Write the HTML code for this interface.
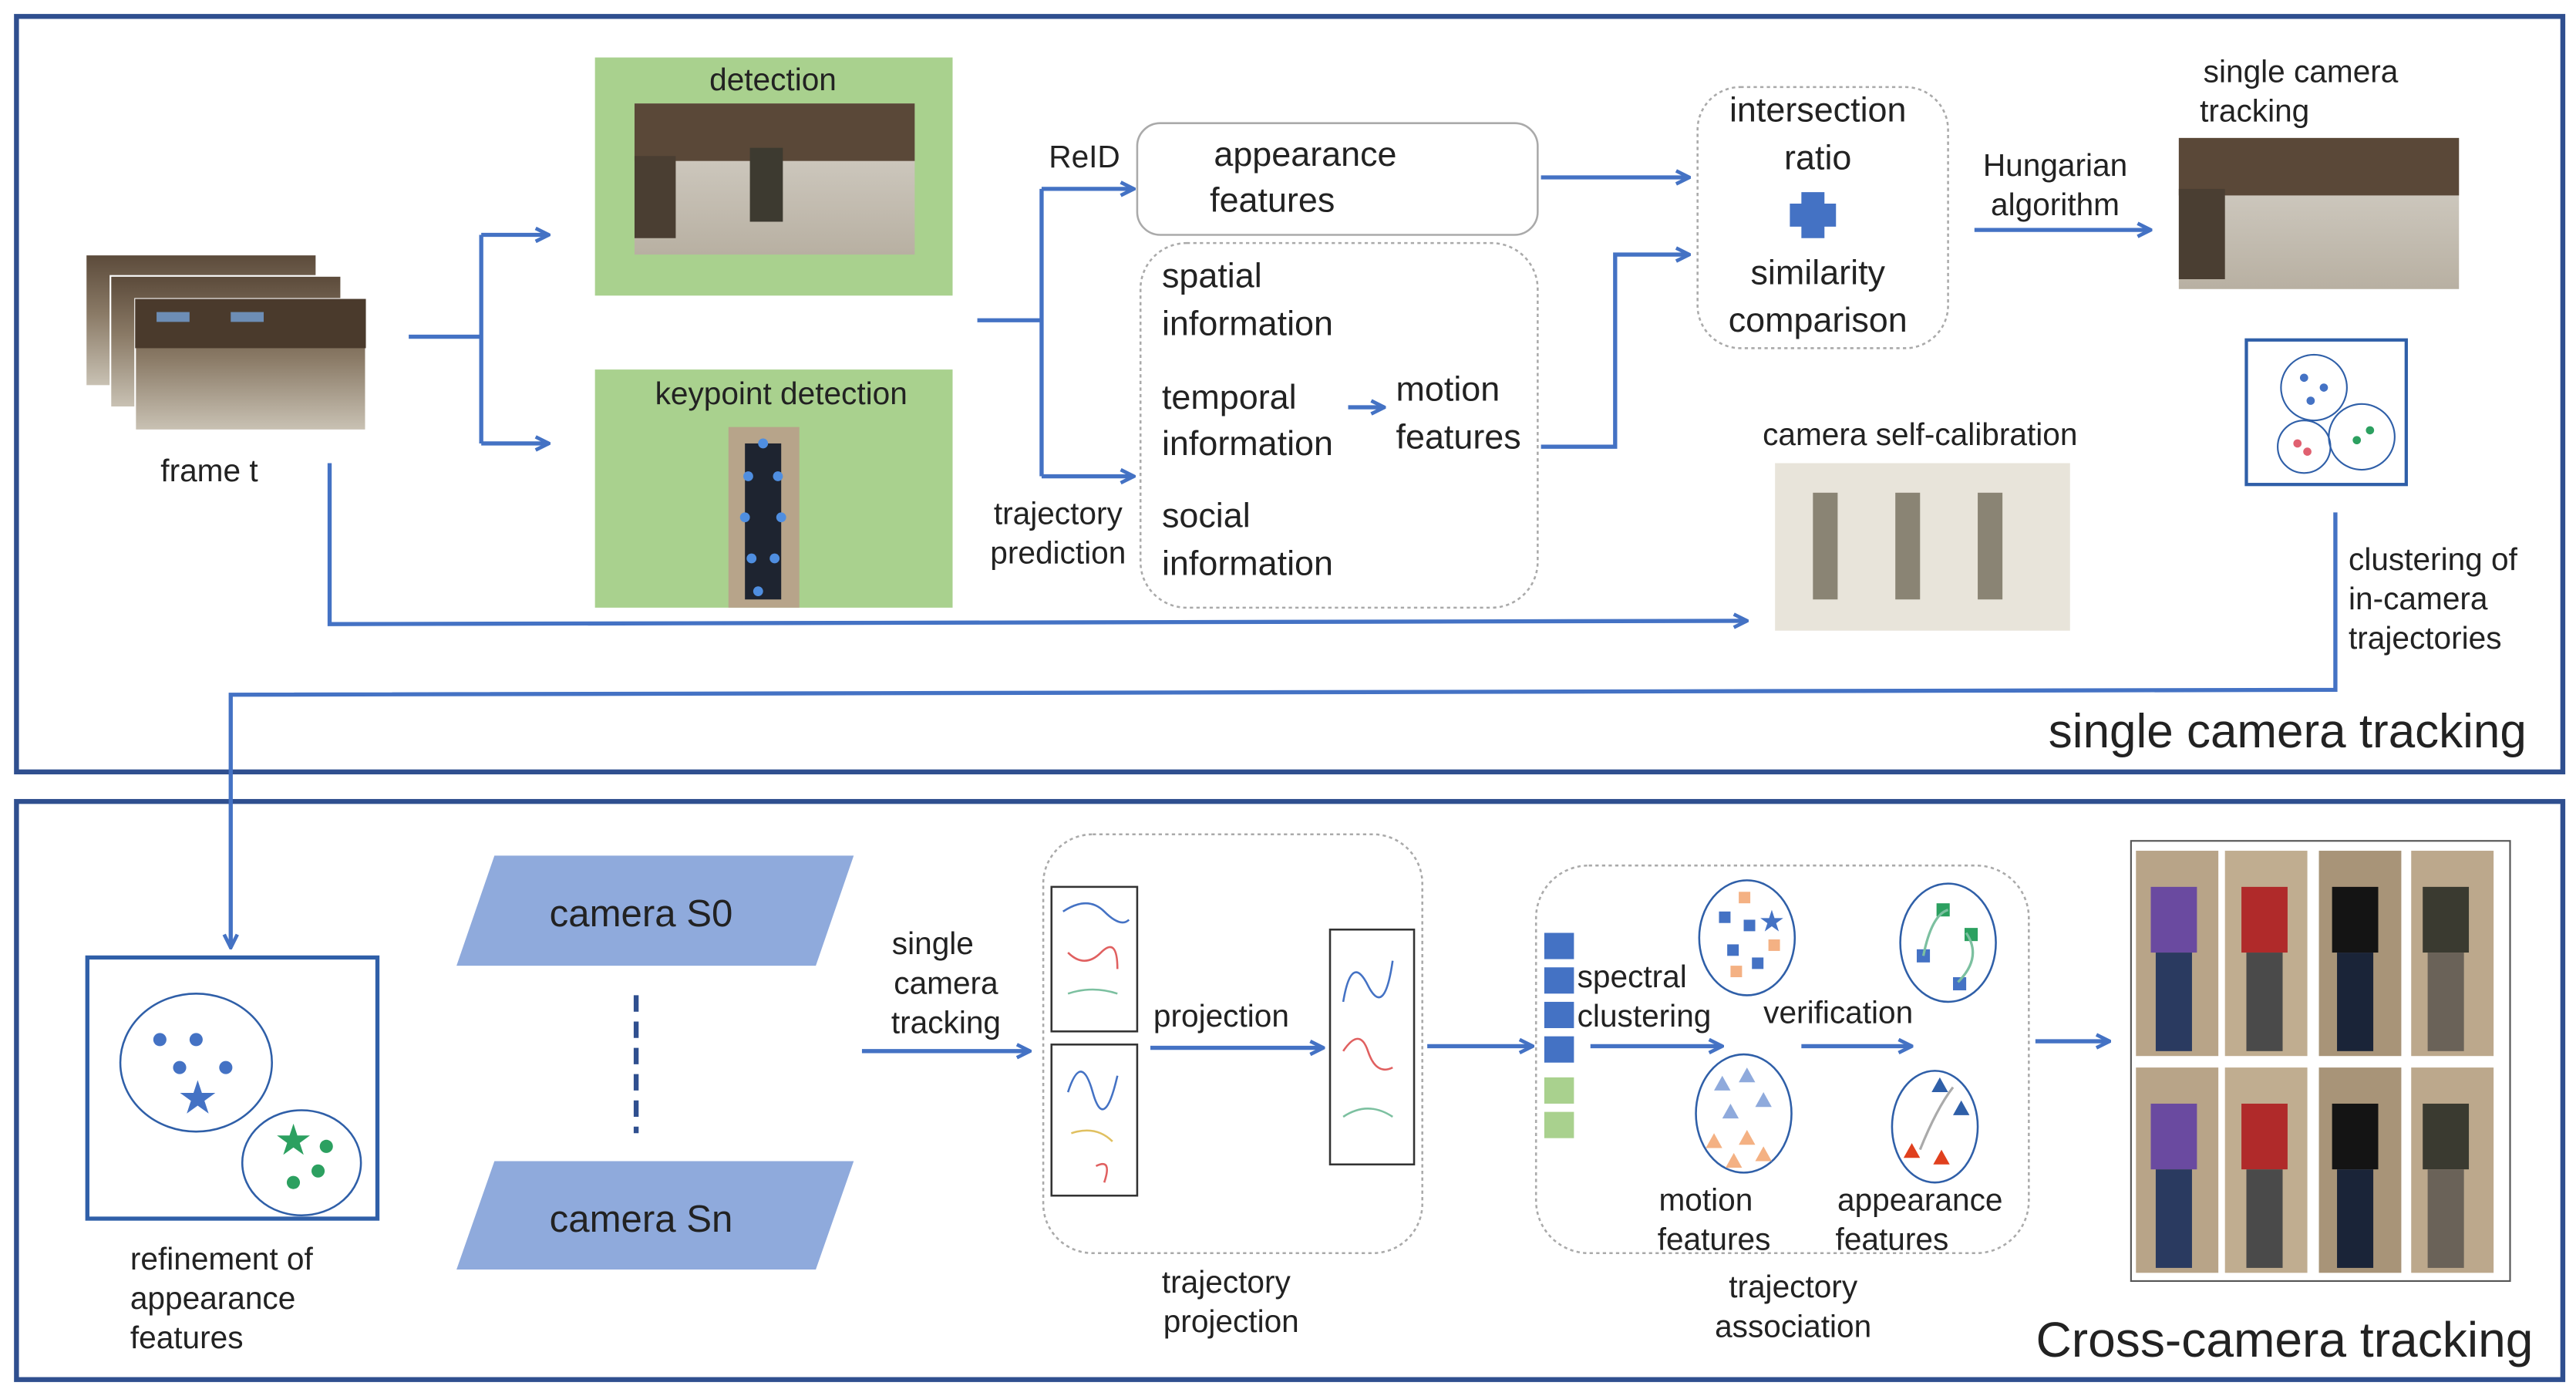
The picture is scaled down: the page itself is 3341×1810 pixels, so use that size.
<!DOCTYPE html>
<html><head><meta charset="utf-8"><style>
html,body{margin:0;padding:0;background:#fff;}
svg{display:block;}
text{font-family:"Liberation Sans",sans-serif;fill:#222;}
</style></head><body>
<svg width="3341" height="1810" viewBox="0 0 1563 850" preserveAspectRatio="none" xmlns="http://www.w3.org/2000/svg">
<defs>
<marker id="a" markerWidth="10" markerHeight="10" refX="9" refY="5" orient="auto" markerUnits="userSpaceOnUse"><path d="M1,1 L9,5 L1,9" fill="none" stroke="#4472c4" stroke-width="2.2"/></marker>
<linearGradient id="store" x1="0" y1="0" x2="0" y2="1"><stop offset="0" stop-color="#5b4a3a"/><stop offset="0.45" stop-color="#8a7a66"/><stop offset="1" stop-color="#c9c2b4"/></linearGradient>
<linearGradient id="floor" x1="0" y1="0" x2="0" y2="1"><stop offset="0" stop-color="#d8d4cc"/><stop offset="1" stop-color="#b8b0a2"/></linearGradient>
</defs>
<g fill="none" stroke="#2f4f8f" stroke-width="3">
<rect x="10" y="10" width="1545" height="460"/>
<rect x="10" y="488" width="1545" height="352"/>
</g>
<g>
<rect x="52" y="155" width="140" height="80" fill="url(#store)" stroke="#fff"/>
<rect x="67" y="168" width="140" height="80" fill="url(#store)" stroke="#fff"/>
<rect x="82" y="182" width="140" height="80" fill="url(#store)" stroke="#fff"/>
<rect x="82" y="182" width="140" height="30" fill="#4a3a2c"/>
<rect x="95" y="190" width="20" height="6" fill="#6d8db5"/><rect x="140" y="190" width="20" height="6" fill="#6d8db5"/>
</g>
<text x="127" y="293" font-size="19" text-anchor="middle">frame t</text>
<rect x="361" y="35" width="217" height="145" fill="#a9d18e"/>
<text x="469" y="55" font-size="19" text-anchor="middle">detection</text>
<rect x="385" y="63" width="170" height="92" fill="url(#floor)"/>
<rect x="385" y="63" width="170" height="35" fill="#5a4838"/>
<rect x="455" y="90" width="20" height="45" fill="#3d3a30"/>
<rect x="385" y="95" width="25" height="50" fill="#4a3e32"/>
<rect x="361" y="225" width="217" height="145" fill="#a9d18e"/>
<text x="474" y="246" font-size="19" text-anchor="middle">keypoint detection</text>
<rect x="442" y="260" width="43" height="110" fill="#b7a48a"/>
<rect x="452" y="270" width="22" height="95" fill="#1e2430"/>
<g fill="#4f8ee0"><circle cx="463" cy="270" r="3"/><circle cx="454" cy="290" r="3"/><circle cx="472" cy="290" r="3"/><circle cx="452" cy="315" r="3"/><circle cx="474" cy="315" r="3"/><circle cx="456" cy="340" r="3"/><circle cx="470" cy="340" r="3"/><circle cx="460" cy="360" r="3"/></g>
<g fill="none" stroke="#4472c4" stroke-width="2.5">
<path d="M248,205 H292"/><path d="M292,143 V270"/>
<path d="M292,143 H333" marker-end="url(#a)"/><path d="M292,270 H333" marker-end="url(#a)"/>
<path d="M593,195 H632"/><path d="M632,115 V290"/>
<path d="M632,115 H688" marker-end="url(#a)"/><path d="M632,290 H688" marker-end="url(#a)"/>
<path d="M818,248 H840" marker-end="url(#a)"/>
<path d="M935,108 H1025" marker-end="url(#a)"/>
<path d="M935,272 H980 V155 H1025" marker-end="url(#a)"/>
<path d="M1198,140 H1305" marker-end="url(#a)"/>
<path d="M200,282 V380 L1060,378" marker-end="url(#a)"/>
<path d="M1417,312 V420 L140,423 V577" marker-end="url(#a)"/>
</g>
<text x="658" y="102" font-size="19" text-anchor="middle">ReID</text>
<text x="642" y="319" font-size="19" text-anchor="middle">trajectory</text>
<text x="642" y="343" font-size="19" text-anchor="middle">prediction</text>
<rect x="690" y="75" width="243" height="68" rx="14" fill="none" stroke="#aaa" stroke-width="1.2"/>
<text x="792" y="101" font-size="21" text-anchor="middle">appearance</text>
<text x="772" y="129" font-size="21" text-anchor="middle">features</text>
<rect x="692" y="148" width="241" height="222" rx="28" fill="none" stroke="#aaa" stroke-width="1.2" stroke-dasharray="2,2"/>
<g font-size="21">
<text x="705" y="175">spatial</text><text x="705" y="204">information</text>
<text x="705" y="249">temporal</text><text x="705" y="277">information</text>
<text x="847" y="244">motion</text><text x="847" y="273">features</text>
<text x="705" y="321">social</text><text x="705" y="350">information</text>
</g>
<rect x="1030" y="53" width="152" height="159" rx="26" fill="none" stroke="#aaa" stroke-width="1.2" stroke-dasharray="2,2"/>
<g font-size="21" text-anchor="middle">
<text x="1103" y="74">intersection</text><text x="1103" y="103">ratio</text>
<text x="1103" y="173">similarity</text><text x="1103" y="202">comparison</text>
</g>
<path d="M1093,117 h14 v7 h7 v14 h-7 v7 h-14 v-7 h-7 v-14 h7z" fill="#4472c4"/>
<text x="1247" y="107" font-size="19" text-anchor="middle">Hungarian</text>
<text x="1247" y="131" font-size="19" text-anchor="middle">algorithm</text>
<text x="1396" y="50" font-size="19" text-anchor="middle">single camera</text>
<text x="1368" y="74" font-size="19" text-anchor="middle">tracking</text>
<rect x="1322" y="84" width="170" height="92" fill="url(#floor)"/>
<rect x="1322" y="84" width="170" height="35" fill="#5a4838"/>
<rect x="1322" y="115" width="28" height="55" fill="#4a3e32"/>
<rect x="1363" y="207" width="97" height="88" fill="none" stroke="#2f5fa8" stroke-width="2"/>
<g fill="none" stroke="#2f5fa8" stroke-width="1"><circle cx="1404" cy="236" r="20"/><circle cx="1398" cy="272" r="16"/><circle cx="1433" cy="266" r="20"/></g>
<g fill="#4472c4"><circle cx="1398" cy="230" r="2.5"/><circle cx="1410" cy="236" r="2.5"/><circle cx="1402" cy="244" r="2.5"/></g>
<g fill="#e06070"><circle cx="1394" cy="270" r="2.5"/><circle cx="1400" cy="275" r="2.5"/></g>
<g fill="#2ca060"><circle cx="1430" cy="268" r="2.5"/><circle cx="1438" cy="262" r="2.5"/></g>
<text x="1165" y="271" font-size="19" text-anchor="middle">camera self-calibration</text>
<rect x="1077" y="282" width="179" height="102" fill="#e8e4da"/>
<g fill="#8a8474"><rect x="1100" y="300" width="15" height="65"/><rect x="1150" y="300" width="15" height="65"/><rect x="1200" y="300" width="15" height="65"/></g>
<g font-size="19">
<text x="1425" y="347">clustering of</text><text x="1425" y="371">in-camera</text><text x="1425" y="395">trajectories</text>
</g>
<text x="1533" y="455" font-size="29" text-anchor="end">single camera tracking</text>
<rect x="53" y="583" width="176" height="159" fill="none" stroke="#2f5fa8" stroke-width="2.5"/>
<g fill="none" stroke="#2f5fa8" stroke-width="1.2"><ellipse cx="119" cy="647" rx="46" ry="42"/><ellipse cx="183" cy="708" rx="36" ry="32"/></g>
<g fill="#4472c4"><circle cx="97" cy="633" r="4"/><circle cx="119" cy="633" r="4"/><circle cx="109" cy="650" r="4"/><circle cx="137" cy="650" r="4"/></g>
<text x="120" y="678" font-size="28" text-anchor="middle" style="fill:#4472c4">★</text>
<text x="178" y="703" font-size="26" text-anchor="middle" style="fill:#2ca060">★</text>
<g fill="#2ca060"><circle cx="193" cy="713" r="4"/><circle cx="178" cy="720" r="4"/><circle cx="198" cy="698" r="4"/></g>
<g font-size="19"><text x="79" y="773">refinement  of</text><text x="79" y="797">appearance</text><text x="79" y="821">features</text></g>
<polygon points="300,521 518,521 495,588 277,588" fill="#8faadc"/>
<polygon points="300,707 518,707 495,773 277,773" fill="#8faadc"/>
<text x="389" y="564" font-size="23" text-anchor="middle">camera S0</text>
<text x="389" y="750" font-size="23" text-anchor="middle">camera Sn</text>
<path d="M386,606 V690" stroke="#2f4f8f" stroke-width="3" stroke-dasharray="10,6"/>
<g font-size="19" text-anchor="middle"><text x="566" y="581">single</text><text x="574" y="605">camera</text><text x="574" y="629">tracking</text></g>
<g fill="none" stroke="#4472c4" stroke-width="2.5">
<path d="M523,640 H625" marker-end="url(#a)"/>
<path d="M698,638 H803" marker-end="url(#a)"/>
<path d="M866,637 H930" marker-end="url(#a)"/>
<path d="M965,637 H1045" marker-end="url(#a)"/>
<path d="M1093,637 H1160" marker-end="url(#a)"/>
<path d="M1235,634 H1280" marker-end="url(#a)"/>
</g>
<rect x="633" y="508" width="230" height="255" rx="30" fill="none" stroke="#aaa" stroke-width="1.2" stroke-dasharray="2,2"/>
<g fill="none" stroke="#333" stroke-width="1.2"><rect x="638" y="540" width="52" height="88"/><rect x="638" y="636" width="52" height="92"/><rect x="807" y="566" width="51" height="143"/></g>
<g fill="none" stroke-width="1.2">
<path d="M645,555 q15,-10 25,0 t15,5" stroke="#4472c4"/><path d="M648,580 q10,10 20,0 t10,10" stroke="#e06060"/><path d="M648,605 q15,-5 30,0" stroke="#7cc0a0"/>
<path d="M648,665 q8,-25 15,0 t15,-10" stroke="#4472c4"/><path d="M650,690 q15,-5 25,5" stroke="#e0c060"/><path d="M665,710 q10,-5 5,10" stroke="#e06060"/>
<path d="M815,610 q5,-30 15,-10 t15,-15" stroke="#4472c4"/><path d="M815,640 q10,-15 15,0 t15,10" stroke="#e06060"/><path d="M815,680 q15,-10 30,0" stroke="#7cc0a0"/>
</g>
<text x="741" y="625" font-size="19" text-anchor="middle">projection</text>
<text x="744" y="787" font-size="19" text-anchor="middle">trajectory</text>
<text x="747" y="811" font-size="19" text-anchor="middle">projection</text>
<rect x="932" y="527" width="299" height="236" rx="32" fill="none" stroke="#aaa" stroke-width="1.2" stroke-dasharray="2,2"/>
<g fill="#4472c4"><rect x="937" y="568" width="18" height="16"/><rect x="937" y="589" width="18" height="16"/><rect x="937" y="610" width="18" height="16"/><rect x="937" y="631" width="18" height="16"/></g>
<g fill="#a9d18e"><rect x="937" y="656" width="18" height="16"/><rect x="937" y="677" width="18" height="16"/></g>
<g font-size="19"><text x="957" y="601">spectral</text><text x="957" y="625">clustering</text><text x="1070" y="623">verification</text></g>
<g fill="none" stroke="#2f5fa8" stroke-width="1.2"><ellipse cx="1060" cy="571" rx="29" ry="35"/><ellipse cx="1182" cy="574" rx="29" ry="36"/><ellipse cx="1058" cy="678" rx="29" ry="36"/><ellipse cx="1174" cy="686" rx="26" ry="34"/></g>
<g fill="#4472c4"><rect x="1043" y="555" width="7" height="7"/><rect x="1058" y="560" width="7" height="7"/><rect x="1048" y="575" width="7" height="7"/><rect x="1063" y="583" width="7" height="7"/><rect x="1185" y="595" width="8" height="8"/><rect x="1163" y="578" width="8" height="8"/></g>
<g fill="#f4b183"><rect x="1050" y="588" width="7" height="7"/><rect x="1073" y="572" width="7" height="7"/><rect x="1055" y="543" width="7" height="7"/></g>
<text x="1075" y="567" font-size="18" text-anchor="middle" style="fill:#4472c4">★</text>
<g fill="#2ca060"><rect x="1175" y="550" width="8" height="8"/><rect x="1192" y="565" width="8" height="8"/></g>
<path d="M1167,582 q5,-25 15,-28 M1188,598 q15,-15 5,-30" fill="none" stroke="#7cc0a0" stroke-width="1.5"/>
<g fill="#8faadc"><polygon points="1045,655 1050,664 1040,664"/><polygon points="1060,650 1065,659 1055,659"/><polygon points="1070,665 1075,674 1065,674"/><polygon points="1050,672 1055,681 1045,681"/></g>
<g fill="#f4b183"><polygon points="1040,690 1045,699 1035,699"/><polygon points="1060,688 1065,697 1055,697"/><polygon points="1070,698 1075,707 1065,707"/><polygon points="1052,702 1057,711 1047,711"/></g>
<g fill="#2f5fa8"><polygon points="1177,656 1182,665 1172,665"/><polygon points="1190,670 1195,679 1185,679"/></g>
<g fill="#e0401e"><polygon points="1160,696 1165,705 1155,705"/><polygon points="1178,700 1183,709 1173,709"/></g>
<path d="M1165,700 q10,-25 20,-38" fill="none" stroke="#aaa" stroke-width="1.5"/>
<g font-size="19" text-anchor="middle"><text x="1035" y="737">motion</text><text x="1040" y="761">features</text><text x="1165" y="737">appearance</text><text x="1148" y="761">features</text>
<text x="1088" y="790">trajectory</text><text x="1088" y="814">association</text></g>
<rect x="1293" y="512" width="230" height="268" fill="#fff" stroke="#555" stroke-width="1"/>
<g>
<rect x="1296" y="518" width="50" height="125" fill="#b8a488"/><rect x="1350" y="518" width="50" height="125" fill="#c0ad90"/><rect x="1407" y="518" width="50" height="125" fill="#a89478"/><rect x="1463" y="518" width="50" height="125" fill="#bca88c"/>
<rect x="1296" y="650" width="50" height="125" fill="#b8a488"/><rect x="1350" y="650" width="50" height="125" fill="#c0ad90"/><rect x="1407" y="650" width="50" height="125" fill="#a89478"/><rect x="1463" y="650" width="50" height="125" fill="#bca88c"/>
<rect x="1305" y="540" width="28" height="40" fill="#6a4aa0"/><rect x="1308" y="580" width="22" height="60" fill="#2a3a60"/>
<rect x="1360" y="540" width="28" height="40" fill="#b02a2a"/><rect x="1363" y="580" width="22" height="60" fill="#4a4a4a"/>
<rect x="1415" y="540" width="28" height="40" fill="#141414"/><rect x="1418" y="580" width="22" height="60" fill="#1a2438"/>
<rect x="1470" y="540" width="28" height="40" fill="#3a3a30"/><rect x="1473" y="580" width="22" height="60" fill="#6a6258"/>
<rect x="1305" y="672" width="28" height="40" fill="#6a4aa0"/><rect x="1308" y="712" width="22" height="60" fill="#2a3a60"/>
<rect x="1360" y="672" width="28" height="40" fill="#b02a2a"/><rect x="1363" y="712" width="22" height="60" fill="#4a4a4a"/>
<rect x="1415" y="672" width="28" height="40" fill="#141414"/><rect x="1418" y="712" width="22" height="60" fill="#1a2438"/>
<rect x="1470" y="672" width="28" height="40" fill="#3a3a30"/><rect x="1473" y="712" width="22" height="60" fill="#6a6258"/>
</g>
<text x="1537" y="826" font-size="30" text-anchor="end">Cross-camera tracking</text>
</svg>
</body></html>
